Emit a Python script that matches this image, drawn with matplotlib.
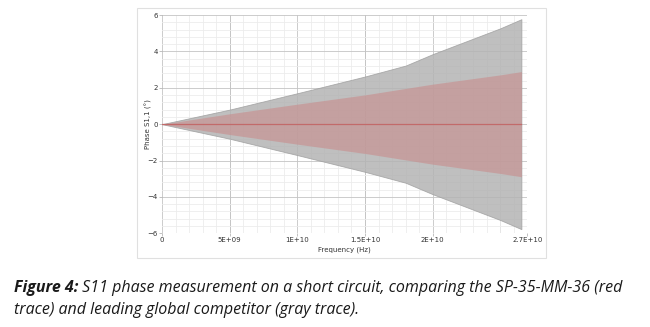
import matplotlib
matplotlib.use('Agg')
import matplotlib.pyplot as plt
from matplotlib.patches import Rectangle
from matplotlib.ticker import MultipleLocator, FixedLocator

gray_freq = [0, 5e9, 1e10, 1.5e10, 1.8e10, 2e10, 2.5e10, 2.655e10]
gray_upper = [0, 0.80, 1.70, 2.62, 3.22, 3.85, 5.27, 5.77]
red_freq = [0, 5e9, 1e10, 1.5e10, 2e10, 2.5e10, 2.655e10]
red_upper = [0, 0.57, 1.10, 1.61, 2.20, 2.71, 2.89]

x_ticks = [0, 5e9, 1e10, 1.5e10, 2e10, 2.7e10]
x_labels = ['0', '5E+09', '1E+10', '1.5E+10', '2E+10', '2.7E+10']
y_ticks = [-6, -4, -2, 0, 2, 4, 6]

fig = plt.figure(figsize=(6.5, 3.27), dpi=100)

# frame round the chart screenshot
fig.patches.append(Rectangle((0.2108, 0.211), 0.629, 0.7645, transform=fig.transFigure,
                             fill=False, edgecolor='#e0e0e0', linewidth=0.8))

ax = fig.add_axes([0.2492, 0.2865, 0.5623, 0.6676])
ax.set_xlim(0, 2.7e10)
ax.set_ylim(-6, 6)

ax.fill_between(gray_freq, gray_upper, [-v for v in gray_upper],
                color='#b4b4b4', alpha=0.85, linewidth=0.6, edgecolor='#a0a0a0', zorder=2)
ax.fill_between(red_freq, red_upper, [-v for v in red_upper],
                color='#c98c8c', alpha=0.6, linewidth=0, zorder=3)
ax.plot([0, red_freq[-1]], [0, 0], color='#c26a6a', linewidth=0.9, zorder=4)

ax.xaxis.set_major_locator(FixedLocator(x_ticks))
ax.set_xticklabels(x_labels)
ax.xaxis.set_minor_locator(MultipleLocator(1e9))
ax.yaxis.set_major_locator(FixedLocator(y_ticks))
ax.yaxis.set_minor_locator(MultipleLocator(0.4))

ax.grid(which='minor', color='#ececec', linewidth=0.6, zorder=0)
ax.grid(which='major', color='#c4c4c4', linewidth=0.6, zorder=0)
for xv in [5e9, 1.5e10, 2.5e10]:
    ax.axvline(xv, color='#c4c4c4', linewidth=0.6, zorder=0)

for s in ax.spines.values():
    s.set_visible(False)
ax.tick_params(which='major', labelsize=5, length=2, width=0.5, color='#aaaaaa',
               labelcolor='#333333', pad=1)
ax.tick_params(which='minor', length=0)
ax.set_xlabel('Frequency (Hz)', fontsize=5, color='#333333', labelpad=2)
ax.set_ylabel('Phase S1,1 (°)', fontsize=5, color='#333333', labelpad=-3)

# caption
cap_font = 'Open Sans'
cap_size = 11.5
t1 = fig.text(0.021, 1 - 288 / 327, 'Figure 4:', fontsize=cap_size, family=cap_font,
              style='italic', weight='bold', color='#1a1a1a', va='center')
fig.canvas.draw()
bb = t1.get_window_extent()
x2 = bb.x1 / fig.bbox.width
fig.text(x2, 1 - 288 / 327, ' S11 phase measurement on a short circuit, comparing the SP-35-MM-36 (red',
         fontsize=cap_size, family=cap_font, style='italic', color='#1a1a1a', va='center')
fig.text(0.021, 1 - 310 / 327, 'trace) and leading global competitor (gray trace).',
         fontsize=cap_size, family=cap_font, style='italic', color='#1a1a1a', va='center')

fig.savefig('out.png', dpi=100)
